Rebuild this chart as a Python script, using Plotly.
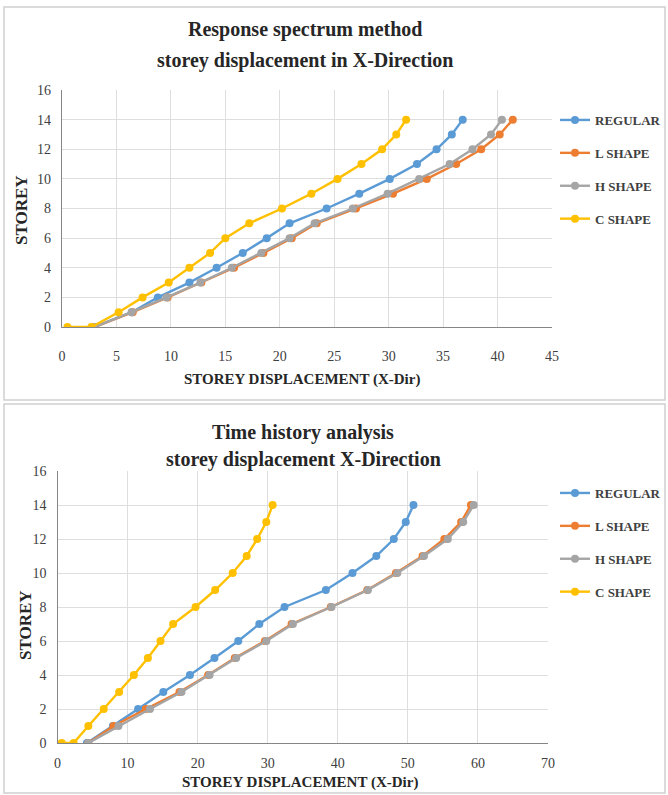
import plotly.graph_objects as go

W, H = 668, 795

# Storey levels (C SHAPE carries an extra base point at storey 0)
storeys = list(range(0, 15))
storeys_c = [0] + storeys

# Response spectrum method - storey displacement in X-Direction
rs_regular = [2.9, 6.4, 8.8, 11.7, 14.2, 16.6, 18.8, 20.9, 24.3, 27.3, 30.1, 32.6, 34.4, 35.8, 36.8]
rs_l_shape = [3.0, 6.5, 9.7, 12.8, 15.8, 18.5, 21.1, 23.4, 27.0, 30.4, 33.5, 36.2, 38.5, 40.2, 41.4]
rs_h_shape = [3.0, 6.4, 9.6, 12.7, 15.6, 18.3, 20.9, 23.2, 26.7, 29.9, 32.8, 35.6, 37.7, 39.4, 40.4]
rs_c_shape = [0.5, 2.7, 5.2, 7.4, 9.8, 11.7, 13.6, 15.0, 17.2, 20.2, 22.9, 25.3, 27.5, 29.4, 30.7, 31.6]

# Time history analysis - storey displacement X-Direction
th_regular = [4.2, 7.9, 11.5, 15.1, 18.9, 22.4, 25.8, 28.8, 32.4, 38.3, 42.1, 45.5, 48.0, 49.7, 50.8]
th_l_shape = [4.4, 8.0, 12.6, 17.4, 21.5, 25.3, 29.6, 33.4, 39.0, 44.2, 48.3, 52.1, 55.2, 57.6, 59.0]
th_h_shape = [4.4, 8.7, 13.2, 17.7, 21.7, 25.5, 29.8, 33.6, 39.1, 44.3, 48.5, 52.3, 55.7, 57.9, 59.4]
th_c_shape = [0.6, 2.3, 4.4, 6.6, 8.8, 10.9, 12.9, 14.7, 16.5, 19.7, 22.5, 25.0, 27.0, 28.5, 29.8, 30.7]

series_names = ["REGULAR", "L SHAPE", "H SHAPE", "C SHAPE"]
colors = ["#5B9BD5", "#ED7D31", "#A5A5A5", "#FFC000"]

title_lines = [["Response spectrum method", "storey displacement in X-Direction"],
               ["Time history analysis", "storey displacement X-Direction"]]
x_title = "STOREY DISPLACEMENT (X-Dir)"
y_title = "STOREY"

SERIF = "Liberation Serif"
TICK_FONT = dict(family=SERIF, size=14, color="#404040")


def px_x(p):
    return p / W


def px_y(p):
    return 1 - p / H


fig = go.Figure()

panels = [
    dict(xa="x", ya="y", legend="legend",
         data=[(rs_regular, storeys), (rs_l_shape, storeys), (rs_h_shape, storeys), (rs_c_shape, storeys_c)]),
    dict(xa="x2", ya="y2", legend="legend2",
         data=[(th_regular, storeys), (th_l_shape, storeys), (th_h_shape, storeys), (th_c_shape, storeys_c)]),
]

for panel in panels:
    for name, color, (xs, ys) in zip(series_names, colors, panel["data"]):
        fig.add_trace(go.Scatter(
            x=xs, y=ys, name=name, mode="lines+markers",
            line=dict(color=color, width=2.4),
            marker=dict(color=color, size=8, symbol="circle"),
            xaxis=panel["xa"], yaxis=panel["ya"],
            legend=panel["legend"], legendgroup=panel["legend"] + name,
        ))

axis_common = dict(
    showgrid=True, gridcolor="#DEDEDE", gridwidth=1,
    zeroline=False, showline=True, linecolor="#868686", linewidth=1.2,
    ticks="", tickfont=TICK_FONT, fixedrange=True, automargin=False,
)

legend_font = dict(family=SERIF, size=13, color="#404040", weight="bold")

fig.update_layout(
    width=W, height=H,
    margin=dict(l=0, r=0, t=0, b=0, autoexpand=False),
    paper_bgcolor="white", plot_bgcolor="white",
    showlegend=True,
    xaxis=dict(domain=[px_x(62), px_x(552)], range=[0, 45], dtick=5, anchor="y",
               ticklabelstandoff=16, **axis_common),
    yaxis=dict(domain=[px_y(327), px_y(90)], range=[0, 16], dtick=2, anchor="x",
               ticklabelstandoff=7, **axis_common),
    xaxis2=dict(domain=[px_x(57.5), px_x(548)], range=[0, 70], dtick=10, anchor="y2",
                ticklabelstandoff=7, **axis_common),
    yaxis2=dict(domain=[px_y(743), px_y(471)], range=[0, 16], dtick=2, anchor="x2",
                ticklabelstandoff=7, **axis_common),
    legend=dict(x=px_x(555), y=px_y(105), xanchor="left", yanchor="top",
                font=legend_font, itemwidth=30, tracegroupgap=13, bgcolor="rgba(0,0,0,0)"),
    legend2=dict(x=px_x(555), y=px_y(478), xanchor="left", yanchor="top",
                 font=legend_font, itemwidth=30, tracegroupgap=13, bgcolor="rgba(0,0,0,0)"),
)

# Panel frames
for y0, y1 in [(7, 400), (404, 793)]:
    fig.add_shape(type="rect", xref="paper", yref="paper",
                  x0=px_x(4), x1=px_x(665), y0=px_y(y1), y1=px_y(y0),
                  line=dict(color="#D0D0D0", width=1.5), fillcolor="rgba(0,0,0,0)", layer="below")

# Chart titles (two lines each) and axis titles
title_pos = [(305, [30, 61]), (303, [432, 459])]
xtitle_pos = [(302, 379), (300, 782)]
ytitle_pos = [(22, 210), (25, 625)]
for lines, (tx, tys), (ax, ay), (yx, yy) in zip(title_lines, title_pos, xtitle_pos, ytitle_pos):
    for line, ty in zip(lines, tys):
        fig.add_annotation(text=line, x=px_x(tx), y=px_y(ty), xref="paper", yref="paper",
                           showarrow=False, xanchor="center", yanchor="middle",
                           font=dict(family=SERIF, size=20, color="#262626", weight="bold"))
    fig.add_annotation(text=x_title, x=px_x(ax), y=px_y(ay), xref="paper", yref="paper",
                       showarrow=False, xanchor="center", yanchor="middle",
                       font=dict(family=SERIF, size=15, color="#262626", weight="bold"))
    fig.add_annotation(text=y_title, x=px_x(yx), y=px_y(yy), xref="paper", yref="paper",
                       showarrow=False, xanchor="center", yanchor="middle", textangle=-90,
                       font=dict(family=SERIF, size=17, color="#262626", weight="bold"))

fig.write_html("out.html")
